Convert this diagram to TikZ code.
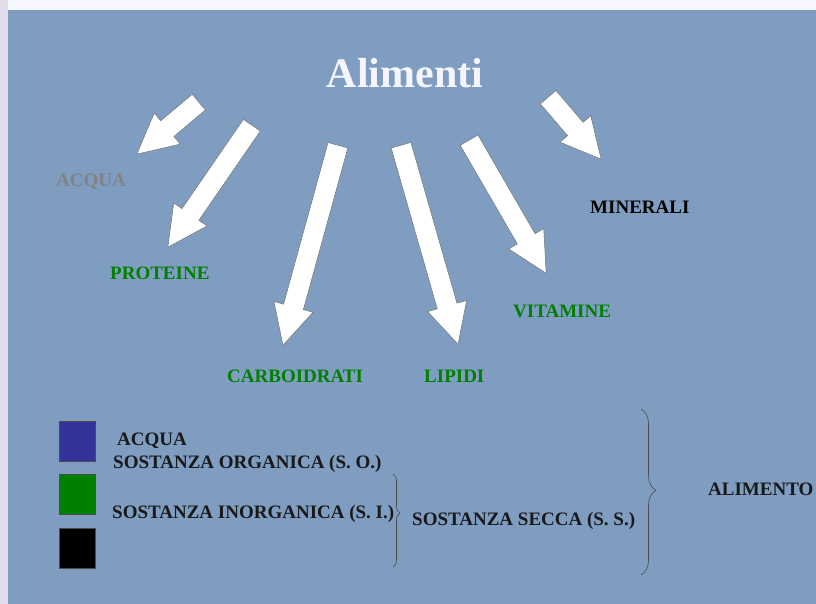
\documentclass[tikz,border=0pt]{standalone}
\usepackage{fontspec}
\setmainfont{Liberation Serif}
\usepackage{tikz}
\usetikzlibrary{shapes}
\usetikzlibrary{shapes.arrows}
\usetikzlibrary{positioning,calc,decorations.pathreplacing}
\usepackage{xcolor}
\definecolor{sfondo}{RGB}{127,157,193}
\definecolor{bordo}{RGB}{228,220,234}
\definecolor{verde}{RGB}{0,128,0}
\definecolor{blu}{RGB}{51,51,153}
\definecolor{grigio}{RGB}{130,130,130}
\tikzset{
 fatarrow/.style={single arrow, draw=black!55, fill=white, line width=.5pt, inner xsep=0pt, inner ysep=10pt, minimum width=0pt, single arrow head extend=10pt, single arrow tip angle=54},
 voce/.style={font=\bfseries\fontsize{19}{19}\selectfont, inner sep=0pt, anchor=base west},
 leg/.style={font=\bfseries\fontsize{19}{19}\selectfont, inner sep=0pt, anchor=base west, text=black!90},
 graffa/.style={decorate, draw=black!70, line width=.6pt}
}
\newcommand{\freccia}[2]{\path let \p1=($(#2)-(#1)$), \n1={atan2(\y1,\x1)}, \n2={veclen(\x1,\y1)} in node[fatarrow, anchor=tail, rotate=\n1, minimum height=\n2] at (#1) {};}

\begin{document}
\begin{tikzpicture}[x=1pt,y=-1pt]
\useasboundingbox (0,0) rectangle (816,604);
\fill[white!97!blue] (0,0) rectangle (816,604);
\fill[bordo] (0,0) rectangle (8,604);
\fill[sfondo] (8,10) rectangle (816,604);

\node[font=\bfseries\fontsize{42}{48}\selectfont, text=white!96!blue, inner sep=0pt, anchor=base] (alimenti) at (405,88) {Alimenti};

\node[voce, text=grigio] (acqua) at (56,186) {ACQUA};
\node[voce, text=verde] (proteine) at (110,279) {PROTEINE};
\node[voce, text=verde] (carbo) at (227,382) {CARBOIDRATI};
\node[voce, text=verde] (lipidi) at (424,382) {LIPIDI};
\node[voce, text=verde] (vitamine) at (513,317) {VITAMINE};
\node[voce, text=black] (minerali) at (590,214) {MINERALI};

% frecce
\coordinate (c1) at (199,102); \coordinate (t1) at (137,154);
\coordinate (c2) at (252,125); \coordinate (t2) at (168,247);
\coordinate (c3) at (338,145); \coordinate (t3) at (283,345);
\coordinate (c4) at (401,145); \coordinate (t4) at (458,344);
\coordinate (c5) at (469,140); \coordinate (t5) at (546,273);
\coordinate (c6) at (548,97);  \coordinate (t6) at (601,159);
\freccia{c1}{t1}
\freccia{c2}{t2}
\freccia{c3}{t3}
\freccia{c4}{t4}
\freccia{c5}{t5}
\freccia{c6}{t6}

% legenda
\draw[black!70, fill=blu] (59,421) rectangle (95,461);
\draw[black!70, fill=verde] (59,474) rectangle (95,514);
\draw[black!70, fill=black] (59,528) rectangle (95,568);
\node[leg] (lacqua) at (117,445) {ACQUA};
\node[leg] (so) at (113,468) {SOSTANZA ORGANICA (S. O.)};
\node[leg] (si) at (112,518) {SOSTANZA INORGANICA (S. I.)};
\node[leg] (ss) at (412,525) {SOSTANZA SECCA (S. S.)};
\node[leg] (alimento) at (708,495) {ALIMENTO};

\coordinate (g1a) at (393,474); \coordinate (g1b) at (393,567);
\draw[graffa, decoration={brace, amplitude=7pt, aspect=0.42}] (g1a) -- (g1b);
\coordinate (g2a) at (641,409); \coordinate (g2b) at (641,575);
\draw[graffa, decoration={brace, amplitude=15pt, aspect=0.49}] (g2a) -- (g2b);
\end{tikzpicture}
\end{document}
